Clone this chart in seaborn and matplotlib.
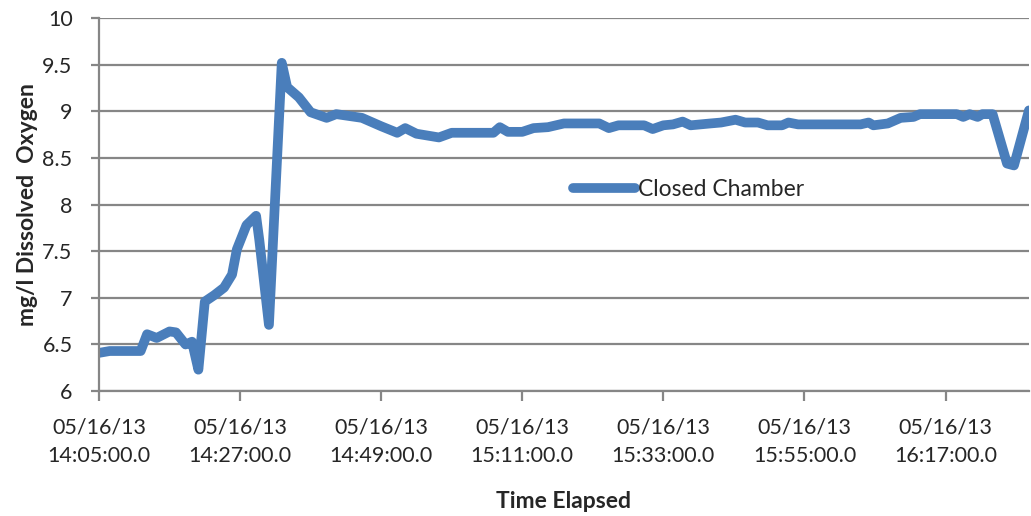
import pandas as pd
import matplotlib
matplotlib.use("Agg")
import matplotlib.pyplot as plt
import seaborn as sns

# readings (time of day on 05/16/13, mg/l dissolved oxygen)
times = [
    "14:05:00", "14:06:40", "14:11:30", "14:12:30", "14:14:00", "14:16:00",
    "14:17:00", "14:18:30", "14:19:30", "14:20:30", "14:21:30", "14:23:00",
    "14:24:30", "14:25:45", "14:26:30", "14:28:00", "14:29:30", "14:30:00",
    "14:31:30", "14:33:30", "14:34:20", "14:36:10", "14:38:00", "14:40:30",
    "14:42:00", "14:46:00", "14:49:00", "14:51:30", "14:52:45", "14:54:30",
    "14:58:00", "15:00:00", "15:06:30", "15:07:30", "15:08:45", "15:11:00",
    "15:12:45", "15:15:00", "15:17:30", "15:23:00", "15:24:30", "15:26:00",
    "15:30:00", "15:31:20", "15:33:00", "15:34:30", "15:36:00", "15:37:15",
    "15:40:20", "15:42:00", "15:44:15", "15:45:45", "15:47:45", "15:49:15",
    "15:51:30", "15:52:30", "15:54:00", "16:03:45", "16:05:00", "16:05:45",
    "16:08:00", "16:10:00", "16:12:00", "16:13:00", "16:18:45", "16:19:45",
    "16:20:45", "16:22:00", "16:22:45", "16:24:20", "16:26:35", "16:27:40",
    "16:30:00",
]
oxygen = [
    6.41, 6.43, 6.43, 6.61, 6.57, 6.64,
    6.63, 6.50, 6.53, 6.23, 6.96, 7.03,
    7.11, 7.25, 7.52, 7.78, 7.88, 7.62,
    6.71, 9.52, 9.26, 9.15, 8.99, 8.93,
    8.97, 8.93, 8.84, 8.77, 8.82, 8.76,
    8.72, 8.77, 8.77, 8.83, 8.78, 8.78,
    8.82, 8.83, 8.87, 8.87, 8.82, 8.85,
    8.85, 8.81, 8.85, 8.86, 8.89, 8.85,
    8.87, 8.88, 8.91, 8.88, 8.88, 8.85,
    8.85, 8.88, 8.86, 8.86, 8.88, 8.85,
    8.87, 8.93, 8.94, 8.97, 8.97, 8.94,
    8.97, 8.94, 8.97, 8.97, 8.44, 8.42,
    9.01,
]
tick_times = ["14:05:00", "14:27:00", "14:49:00", "15:11:00",
              "15:33:00", "15:55:00", "16:17:00"]
y_ticks = [6, 6.5, 7, 7.5, 8, 8.5, 9, 9.5, 10]

df = pd.DataFrame({
    "time": pd.to_datetime(["2013-05-16 " + t for t in times]),
    "oxygen": oxygen,
    "series": "Closed Chamber",
})

sns.set_style("white")
plt.rcParams["font.family"] = ["Lato", "DejaVu Sans"]

grid_col = "#868686"
blue = "#4A7EBB"

fig = plt.figure(figsize=(10.31, 5.16), dpi=100)
ax = fig.add_axes([0.096, 0.242, 0.902, 0.723])

sns.lineplot(data=df, x="time", y="oxygen", hue="series", palette=[blue],
             linewidth=7, ax=ax)
for ln in ax.get_lines():
    ln.set_solid_capstyle("round")
    ln.set_solid_joinstyle("round")

ax.set_ylim(6, 10)
ax.set_yticks(y_ticks)
ax.set_yticklabels([f"{v:g}" for v in y_ticks])
ax.set_xlim(pd.Timestamp("2013-05-16 14:05:00"), pd.Timestamp("2013-05-16 16:30:00"))
ticks = pd.to_datetime(["2013-05-16 " + t for t in tick_times])
ax.set_xticks(ticks)
ax.set_xticklabels(["05/16/13\n" + t + ".0" for t in tick_times], linespacing=1.5)

ax.yaxis.grid(True, color=grid_col, linewidth=1.6)
ax.xaxis.grid(False)
ax.set_axisbelow(True)
for side in ["top", "right"]:
    ax.spines[side].set_visible(False)
for side in ["left", "bottom"]:
    ax.spines[side].set_color(grid_col)
    ax.spines[side].set_linewidth(1.6)
ax.tick_params(axis="y", direction="out", length=6, width=1.6, color=grid_col,
               labelsize=15.5, pad=13, left=True)
ax.tick_params(axis="x", direction="out", length=7, width=1.6, color=grid_col,
               labelsize=15.5, pad=12, bottom=True)

ax.set_ylabel("mg/l Dissolved  Oxygen", fontsize=16.5, fontweight="bold", labelpad=3)
ax.set_xlabel("Time Elapsed", fontsize=16.5, fontweight="bold", labelpad=18)

ax.legend(loc="center left", bbox_to_anchor=(0.488, 0.54), frameon=False,
          fontsize=16.5, handlelength=2.7, handletextpad=0.1)

fig.savefig("out.png", dpi=100)
